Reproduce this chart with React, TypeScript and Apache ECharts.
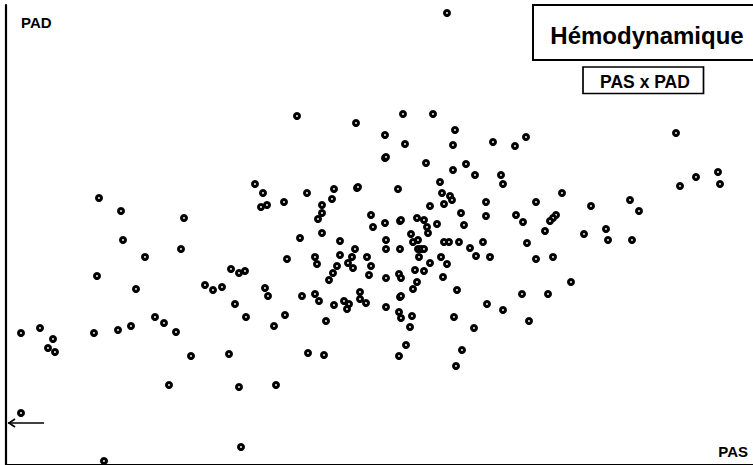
import React, { useEffect, useRef } from "react";
import * as echarts from "echarts";

// PAS (x) and PAD (y) values (frame units)
const pasValues: number[] = [
  441, 291, 350, 397, 427, 379, 399, 449, 447, 379, 380, 420, 447, 460, 469, 487, 509, 520, 495, 497,
  392, 434, 436, 444, 446, 438, 424, 480, 556, 530, 585, 624, 633, 670, 690, 674, 712, 714,
  249, 257, 255, 261, 278, 301, 328, 326, 351, 352, 93, 115, 178, 316, 316, 312, 365, 367, 316, 294,
  334, 117, 175, 349, 139, 281, 309, 311, 334, 346, 342, 347, 361, 365, 363, 331, 327, 323, 91,
  225, 233, 239, 130, 199, 207, 216, 259, 262, 296, 309, 313, 354, 354, 360, 328, 338, 343, 341,
  229, 240, 149, 158, 279, 320, 268, 125, 112, 170, 88, 34, 15, 47, 42, 49, 185, 223, 302, 318,
  163, 233, 270, 15, 235, 98,
  379, 394, 395, 411, 418, 421, 422, 431, 455, 458, 480, 510, 517, 550, 547, 544, 539, 578, 600, 602,
  626, 405, 407, 412, 380, 380, 394, 412, 415, 418, 438, 443, 453, 464, 477, 470, 484, 521, 530, 547,
  413, 435, 424, 441, 409, 418, 437, 393, 395, 380, 411, 407, 394, 395, 451, 565, 516, 542,
  380, 393, 395, 406, 404, 448, 481, 497, 523, 468, 400, 393, 456, 450,
];
const padValues: number[] = [
  452, 349, 342, 351, 351, 330, 321, 335, 320, 307, 308, 302, 295, 301, 290, 323, 319, 328, 290, 281,
  276, 283, 272, 269, 265, 261, 259, 263, 272, 263, 259, 265, 254, 332, 288, 279, 293, 281,
  281, 272, 258, 260, 263, 272, 276, 266, 277, 278, 267, 254, 247, 260, 252, 246, 250, 238, 232, 227,
  224, 225, 216, 216, 208, 206, 208, 201, 210, 208, 202, 197, 208, 199, 190, 199, 192, 185, 189,
  196, 192, 194, 176, 180, 175, 178, 177, 169, 169, 171, 164, 173, 166, 162, 160, 164, 161, 156,
  161, 148, 148, 142, 150, 144, 139, 139, 135, 133, 132, 137, 132, 126, 117, 113, 109, 111, 112, 110,
  80, 78, 80, 52, 18, 4,
  242, 244, 245, 247, 245, 238, 232, 241, 252, 240, 249, 250, 243, 250, 247, 244, 234, 231, 236, 225,
  225, 231, 223, 225, 225, 216, 216, 216, 216, 216, 223, 223, 223, 217, 223, 209, 208, 222, 206, 208,
  208, 208, 202, 201, 195, 194, 188, 191, 187, 187, 183, 176, 168, 169, 175, 183, 171, 171,
  158, 153, 147, 149, 138, 148, 161, 155, 144, 137, 120, 109, 115, 99,
];

const xAxisMax = 747;
const yAxisMax = 460;
const arrowLevel = 42; // PAD level marked by the arrow on the left axis

const titleText = "Hémodynamique";
const subtitleText = "PAS x PAD";
const yName = "PAD";
const xName = "PAS";

export default function App() {
  const ref = useRef<HTMLDivElement>(null);

  useEffect(() => {
    if (!ref.current) return;
    const chart = echarts.init(ref.current, undefined, { renderer: "svg" });
    const points = pasValues.map((x, i) => [x, padValues[i]]);
    const font = "Liberation Sans, Arial, sans-serif";
    const arrowY = 5 + (1 - arrowLevel / yAxisMax) * 460;
    chart.setOption({
      animation: false,
      backgroundColor: "#fff",
      grid: { left: 6, top: 5, right: 0, bottom: 0, containLabel: false },
      xAxis: {
        type: "value",
        position: "top",
        min: 0,
        max: xAxisMax,
        axisLine: { show: true, lineStyle: { color: "#000", width: 2 } },
        axisTick: { show: false },
        axisLabel: { show: false },
        splitLine: { show: false },
      },
      yAxis: {
        type: "value",
        min: 0,
        max: yAxisMax,
        axisLine: { show: true, lineStyle: { color: "#000", width: 2.2 } },
        axisTick: { show: false },
        axisLabel: { show: false },
        splitLine: { show: false },
      },
      series: [
        {
          type: "scatter",
          data: points,
          symbol: "circle",
          symbolSize: 5,
          clip: false,
          itemStyle: { color: "#fff", borderColor: "#000", borderWidth: 3, opacity: 1 },
          emphasis: { disabled: true },
        },
      ],
      graphic: [
        {
          type: "rect",
          shape: { x: 533, y: 5, width: 224, height: 55 },
          style: { fill: "#fff", stroke: "#000", lineWidth: 2 },
          z: 10,
        },
        {
          type: "text",
          x: 647,
          y: 35,
          style: {
            text: titleText,
            fontFamily: font,
            fontWeight: "bold",
            fontSize: 24,
            fill: "#000",
            align: "center",
            verticalAlign: "middle",
          },
          z: 11,
        },
        {
          type: "rect",
          shape: { x: 583, y: 67, width: 120.5, height: 26.5 },
          style: { fill: "#fff", stroke: "#000", lineWidth: 1.7 },
          z: 10,
        },
        {
          type: "text",
          x: 645,
          y: 82,
          style: {
            text: subtitleText,
            fontFamily: font,
            fontWeight: "bold",
            fontSize: 17.5,
            fill: "#000",
            align: "center",
            verticalAlign: "middle",
          },
          z: 11,
        },
        {
          type: "text",
          x: 21,
          y: 22,
          style: {
            text: yName,
            fontFamily: font,
            fontWeight: "bold",
            fontSize: 15,
            fill: "#000",
            align: "left",
            verticalAlign: "middle",
          },
        },
        {
          type: "text",
          x: 748,
          y: 451.5,
          style: {
            text: xName,
            fontFamily: font,
            fontWeight: "bold",
            fontSize: 15,
            fill: "#000",
            align: "right",
            verticalAlign: "middle",
          },
        },
        {
          type: "line",
          shape: { x1: 44, y1: arrowY, x2: 8, y2: arrowY },
          style: { stroke: "#000", lineWidth: 1.6 },
        },
        {
          type: "polyline",
          shape: { points: [[15, arrowY - 4], [9, arrowY], [15, arrowY + 4]] },
          style: { stroke: "#000", lineWidth: 1.6, fill: "none" },
        },
      ],
    });
    return () => chart.dispose();
  }, []);

  return (
    <div
      ref={ref}
      style={{ position: "fixed", left: 0, top: 0, width: 753, height: 465, background: "#fff" }}
    />
  );
}
